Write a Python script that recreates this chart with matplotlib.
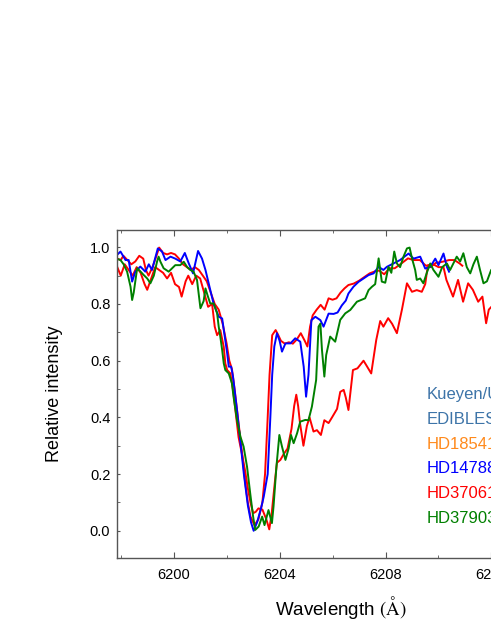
''' plot.py
DIB 6203/6204 profiles towards four sightlines (Kueyen/UVES, EDIBLES).
'''

import matplotlib
matplotlib.use('Agg')
import matplotlib.pyplot as plt
from matplotlib.ticker import MultipleLocator

# wavelength [A] / relative intensity
blue_wl = [6197.86, 6197.99, 6198.18, 6198.30, 6198.43, 6198.55, 6198.74, 6198.93,
           6199.06, 6199.18, 6199.40, 6199.56, 6199.69, 6199.88, 6200.06, 6200.25,
           6200.42, 6200.57, 6200.73, 6200.92, 6201.07, 6201.20, 6201.38, 6201.51,
           6201.70, 6201.83, 6201.91, 6202.02, 6202.08, 6202.17, 6202.24, 6202.33,
           6202.39, 6202.50, 6202.65, 6202.80, 6202.92, 6203.02, 6203.15, 6203.30,
           6203.40, 6203.55, 6203.65, 6203.72, 6203.80, 6203.90, 6204.00, 6204.09,
           6204.22, 6204.41, 6204.59, 6204.78, 6204.91, 6205.00, 6205.09, 6205.20,
           6205.35, 6205.54, 6205.66, 6205.85, 6206.04, 6206.19, 6206.35, 6206.50,
           6206.60, 6206.79, 6206.98, 6207.17, 6207.36, 6207.55, 6207.74, 6207.92,
           6208.05, 6208.30, 6208.55, 6208.87, 6209.06, 6209.31, 6209.50, 6209.69,
           6209.88, 6210.00, 6210.19, 6210.32, 6210.40]
blue_int = [0.973, 0.985, 0.955, 0.955, 0.879, 0.914, 0.932, 0.914,
            0.940, 0.920, 0.996, 0.985, 0.955, 0.967, 0.960, 0.950,
            0.980, 0.943, 0.908, 0.987, 0.960, 0.920, 0.850, 0.800,
            0.755, 0.749, 0.697, 0.626, 0.579, 0.579, 0.544, 0.473,
            0.426, 0.330, 0.200, 0.090, 0.030, 0.000, 0.030, 0.080,
            0.120, 0.200, 0.400, 0.550, 0.650, 0.697, 0.670, 0.632,
            0.661, 0.661, 0.679, 0.667, 0.579, 0.473, 0.550, 0.743,
            0.755, 0.743, 0.720, 0.766, 0.765, 0.770, 0.795, 0.812,
            0.837, 0.861, 0.878, 0.890, 0.902, 0.908, 0.931, 0.920,
            0.931, 0.943, 0.955, 0.978, 0.960, 0.967, 0.925, 0.931,
            0.960, 0.937, 0.978, 0.931, 0.914]

red_wl = [6197.87, 6198.00, 6198.10, 6198.25, 6198.40, 6198.55, 6198.70, 6198.85,
          6198.95, 6199.05, 6199.20, 6199.35, 6199.45, 6199.60, 6199.75, 6199.90,
          6200.05, 6200.20, 6200.35, 6200.50, 6200.65, 6200.80, 6200.95, 6201.10,
          6201.25, 6201.40, 6201.55, 6201.70, 6201.85, 6202.00, 6202.10, 6202.20,
          6202.30, 6202.40, 6202.50, 6202.60, 6202.70, 6202.80, 6202.90, 6203.05,
          6203.20, 6203.35, 6203.45, 6203.55, 6203.62, 6203.72, 6203.85, 6203.95,
          6204.05, 6204.20, 6204.35, 6204.50, 6204.65, 6204.80, 6204.95, 6205.05,
          6205.15, 6205.25, 6205.40, 6205.55, 6205.70, 6205.85, 6206.00, 6206.15,
          6206.30, 6206.45, 6206.60, 6206.80, 6207.00, 6207.20, 6207.40, 6207.60,
          6207.75, 6207.95, 6208.15, 6208.35, 6208.60, 6208.85, 6209.05, 6209.30,
          6209.50, 6209.70, 6209.90, 6210.15, 6210.40, 6210.60, 6210.80, 6210.90]
red_int = [0.960, 0.955, 0.970, 0.955, 0.940, 0.950, 0.970, 0.960,
           0.920, 0.900, 0.930, 0.970, 0.999, 0.980, 0.975, 0.980,
           0.975, 0.960, 0.940, 0.930, 0.920, 0.930, 0.920, 0.900,
           0.880, 0.840, 0.800, 0.780, 0.730, 0.660, 0.600, 0.570,
           0.500, 0.420, 0.340, 0.260, 0.170, 0.100, 0.050, 0.020,
           0.040, 0.100, 0.200, 0.400, 0.550, 0.690, 0.708, 0.690,
           0.670, 0.660, 0.665, 0.660, 0.675, 0.697, 0.670, 0.650,
           0.720, 0.760, 0.780, 0.797, 0.780, 0.820, 0.815, 0.820,
           0.840, 0.855, 0.867, 0.872, 0.882, 0.895, 0.908, 0.915,
           0.918, 0.905, 0.926, 0.926, 0.943, 0.961, 0.955, 0.955,
           0.937, 0.930, 0.945, 0.949, 0.955, 0.955, 0.943, 0.935]

red2_wl = [6197.87, 6198.00, 6198.15, 6198.30, 6198.45, 6198.60, 6198.75, 6198.90,
           6199.00, 6199.15, 6199.30, 6199.45, 6199.60, 6199.75, 6199.90, 6200.05,
           6200.20, 6200.30, 6200.45, 6200.55, 6200.70, 6200.85, 6201.00, 6201.15,
           6201.30, 6201.45, 6201.55, 6201.64, 6201.76, 6201.89, 6201.95, 6202.02,
           6202.14, 6202.26, 6202.33, 6202.45, 6202.58, 6202.70, 6202.80, 6202.90,
           6203.00, 6203.10, 6203.20, 6203.35, 6203.50, 6203.61, 6203.70, 6203.84,
           6203.90, 6204.03, 6204.15, 6204.30, 6204.45, 6204.55, 6204.63, 6204.70,
           6204.77, 6204.90, 6205.03, 6205.13, 6205.28, 6205.41, 6205.56, 6205.69,
           6205.85, 6205.98, 6206.17, 6206.29, 6206.42, 6206.50, 6206.60, 6206.77,
           6206.94, 6207.17, 6207.30, 6207.46, 6207.65, 6207.80, 6207.92, 6208.10,
           6208.25, 6208.43, 6208.62, 6208.81, 6209.00, 6209.18, 6209.37, 6209.50,
           6209.60, 6209.80, 6210.00, 6210.19, 6210.30, 6210.55, 6210.74, 6210.93,
           6211.12, 6211.30, 6211.50, 6211.66, 6211.80, 6211.90, 6212.10]
red2_int = [0.930, 0.900, 0.940, 0.920, 0.900, 0.930, 0.910, 0.870,
            0.850, 0.890, 0.930, 0.920, 0.910, 0.890, 0.910, 0.870,
            0.860, 0.826, 0.880, 0.900, 0.870, 0.900, 0.890, 0.840,
            0.790, 0.800, 0.720, 0.690, 0.708, 0.649, 0.590, 0.567,
            0.555, 0.485, 0.426, 0.330, 0.270, 0.210, 0.150, 0.100,
            0.062, 0.067, 0.079, 0.075, 0.040, 0.005, 0.060, 0.190,
            0.240, 0.250, 0.270, 0.290, 0.360, 0.440, 0.480, 0.440,
            0.380, 0.300, 0.370, 0.400, 0.350, 0.355, 0.338, 0.390,
            0.380, 0.400, 0.430, 0.490, 0.497, 0.470, 0.426, 0.567,
            0.573, 0.600, 0.580, 0.555, 0.673, 0.740, 0.720, 0.750,
            0.730, 0.697, 0.780, 0.873, 0.843, 0.849, 0.843, 0.870,
            0.937, 0.940, 0.930, 0.930, 0.885, 0.826, 0.885, 0.808,
            0.873, 0.850, 0.808, 0.826, 0.732, 0.780, 0.800]

green_wl = [6197.80, 6197.99, 6198.11, 6198.24, 6198.37, 6198.43, 6198.49, 6198.62,
            6198.74, 6198.87, 6199.00, 6199.12, 6199.25, 6199.37, 6199.43, 6199.50,
            6199.62, 6199.81, 6199.94, 6200.06, 6200.25, 6200.38, 6200.51, 6200.63,
            6200.75, 6200.88, 6201.01, 6201.13, 6201.20, 6201.28, 6201.38, 6201.51,
            6201.64, 6201.70, 6201.76, 6201.83, 6201.89, 6201.95, 6202.08, 6202.20,
            6202.26, 6202.39, 6202.52, 6202.64, 6202.77, 6202.89, 6203.00, 6203.08,
            6203.21, 6203.34, 6203.43, 6203.58, 6203.71, 6203.77, 6203.88, 6203.99,
            6204.09, 6204.22, 6204.34, 6204.43, 6204.53, 6204.66, 6204.78, 6204.97,
            6205.09, 6205.22, 6205.38, 6205.47, 6205.54, 6205.60, 6205.69, 6205.76,
            6205.91, 6206.10, 6206.29, 6206.48, 6206.67, 6206.92, 6207.23, 6207.36,
            6207.49, 6207.61, 6207.74, 6207.86, 6207.99, 6208.11, 6208.22, 6208.33,
            6208.43, 6208.55, 6208.68, 6208.81, 6208.91, 6209.00, 6209.12, 6209.18,
            6209.31, 6209.43, 6209.56, 6209.69, 6209.81, 6210.00, 6210.14, 6210.32,
            6210.44, 6210.69, 6210.82, 6210.94, 6211.07, 6211.20, 6211.32, 6211.45,
            6211.57, 6211.70, 6211.83, 6211.99, 6212.20]
green_int = [0.961, 0.955, 0.940, 0.914, 0.861, 0.814, 0.840, 0.926,
             0.915, 0.902, 0.890, 0.873, 0.900, 0.949, 0.967, 0.949,
             0.926, 0.914, 0.926, 0.937, 0.937, 0.949, 0.930, 0.920,
             0.914, 0.885, 0.785, 0.810, 0.855, 0.830, 0.802, 0.802,
             0.767, 0.720, 0.685, 0.638, 0.591, 0.567, 0.555, 0.520,
             0.473, 0.391, 0.332, 0.297, 0.226, 0.132, 0.050, 0.003,
             0.015, 0.050, 0.020, 0.073, 0.027, 0.085, 0.226, 0.338,
             0.297, 0.250, 0.290, 0.338, 0.309, 0.344, 0.385, 0.391,
             0.390, 0.438, 0.532, 0.720, 0.731, 0.638, 0.544, 0.620,
             0.685, 0.667, 0.744, 0.767, 0.779, 0.808, 0.820, 0.849,
             0.861, 0.870, 0.961, 0.879, 0.875, 0.931, 0.910, 0.985,
             0.943, 0.930, 0.967, 0.996, 0.999, 0.961, 0.920, 0.885,
             0.890, 0.873, 0.910, 0.943, 0.920, 0.896, 0.930, 0.943,
             0.920, 0.967, 0.950, 0.979, 0.930, 0.908, 0.940, 0.967,
             0.920, 0.873, 0.880, 0.920, 0.940]

label_lines = ['Kueyen/UVES', 'EDIBLES', 'HD185418', 'HD147889', 'HD37061', 'HD37903']
label_colors = ['#3d74a8', '#3d74a8', '#ff8a1c', '#0000ff', '#ff0000', '#008000']


def main():
    plt.rcParams['font.family'] = ['Liberation Sans', 'DejaVu Sans']
    plt.rcParams['mathtext.fontset'] = 'stix'

    fig = plt.figure(figsize=(4.91, 6.35), dpi=100)
    # axes run past the right edge of the figure, as in the original crop
    ax = fig.add_axes([117.3 / 491, 1 - 558 / 635, 446.4 / 491, 328 / 635])

    kw = dict(lw=1.4, solid_joinstyle='round')
    ax.plot(red2_wl, red2_int, color='#ff0000', **kw)
    ax.plot(red_wl, red_int, color='#ff0000', **kw)
    ax.plot(blue_wl, blue_int, color='#0000ff', **kw)
    ax.plot(green_wl, green_int, color='#008000', **kw)

    ax.set_xlim(6197.87, 6214.73)
    ax.set_ylim(-0.096, 1.061)
    ax.xaxis.set_major_locator(MultipleLocator(4))
    ax.xaxis.set_minor_locator(MultipleLocator(2))
    ax.yaxis.set_major_locator(MultipleLocator(0.2))
    ax.yaxis.set_minor_locator(MultipleLocator(0.1))
    ax.yaxis.set_major_formatter(plt.FormatStrFormatter('%.1f'))

    for s in ax.spines.values():
        s.set_color('#555555')
        s.set_linewidth(1.0)
    ax.tick_params(which='both', direction='in', top=True, right=False,
                   color='#555555', labelsize=10.5)
    ax.tick_params(axis='x', which='major', length=4.5, pad=7)
    ax.tick_params(axis='x', which='minor', length=2.5)
    ax.tick_params(axis='y', which='both', length=2.5, pad=5)

    ax.set_xlabel(r'Wavelength $(\mathrm{\AA})$', fontsize=13.5, labelpad=9)
    ax.set_ylabel('Relative intensity', fontsize=13, labelpad=19)

    for i, (txt, col) in enumerate(zip(label_lines, label_colors)):
        fig.text(426.7 / 491, 1 - (399 + 24.8 * i) / 635, txt, color=col,
                 fontsize=12, ha='left', va='baseline')

    fig.savefig('out.png', dpi=100)
    plt.close('all')


if __name__ == '__main__':
    main()
